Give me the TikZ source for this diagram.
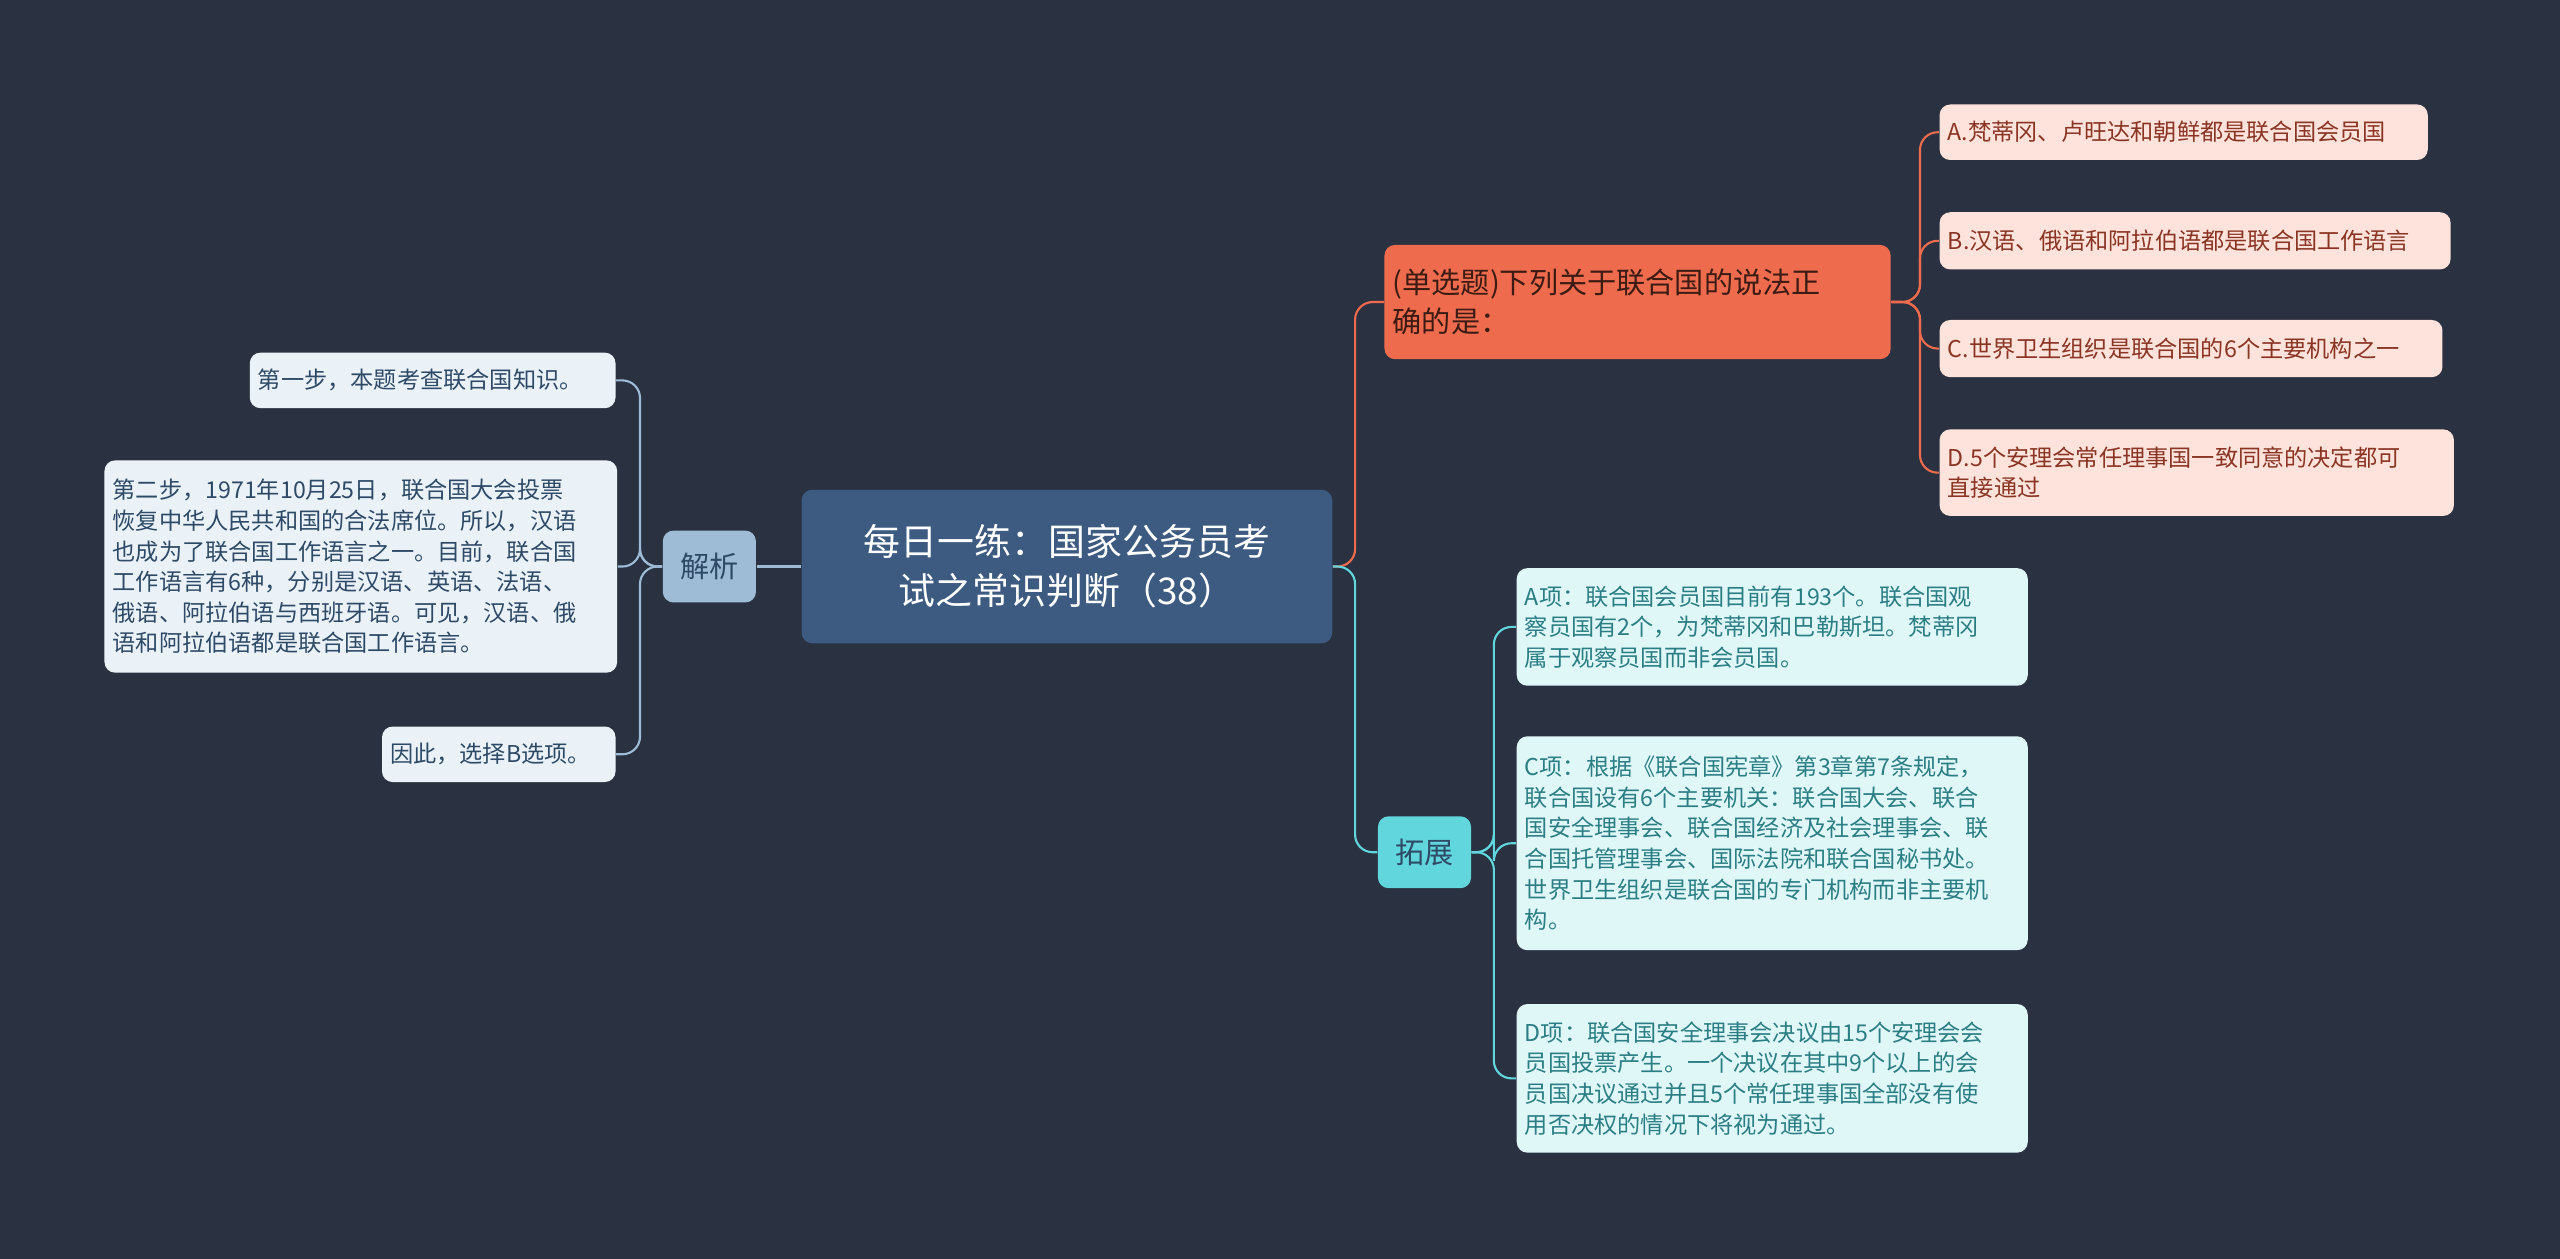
\documentclass[tikz,border=0pt]{standalone}
\usepackage{fontspec}
\setmainfont{Noto Sans CJK SC}
\usetikzlibrary{positioning}
\def\pu{0.016327cm}
\definecolor{bg}{HTML}{2A3140}
\definecolor{rootfill}{HTML}{3D5A80}
\definecolor{qfill}{HTML}{EE6C4D}
\definecolor{optfill}{HTML}{FDE3DB}
\definecolor{opttext}{HTML}{8A3524}
\definecolor{jxfill}{HTML}{9EBCD6}
\definecolor{leftfill}{HTML}{EAF2F8}
\definecolor{lefttext}{HTML}{2E4A66}
\definecolor{tzfill}{HTML}{61D6DC}
\definecolor{rightfill}{HTML}{E0F7F8}
\definecolor{righttext}{HTML}{2A7E84}
\tikzset{
  box/.style={rounded corners=3pt, inner xsep=5*\pu, inner ysep=0pt, align=left},
  small/.style={font=\fontsize{6.6pt}{8.7pt}\selectfont},
  opt/.style={box, small, fill=optfill, text=opttext},
  leftbox/.style={box, small, fill=leftfill, text=lefttext},
  rightbox/.style={box, small, fill=rightfill, text=righttext},
  link/.style={line width=0.6pt, rounded corners=5pt}
}
\begin{document}
\begin{tikzpicture}[x=\pu, y=-\pu]
\fill[bg] (0,0) rectangle (1568,771);

% root and main branches
\node[box, fill=rootfill, text=white, align=center, minimum width=325*\pu, minimum height=94*\pu,
  font=\fontsize{10.5pt}{14pt}\selectfont] (root) at (653.5,347) {每日一练：国家公务员考\\试之常识判断（38）};
\node[box, fill=qfill, text=black!75!qfill, text width=300*\pu, minimum height=70*\pu,
  font=\fontsize{8.3pt}{11pt}\selectfont] (q) at (1003,185) {(单选题)下列关于联合国的说法正\\确的是：};
\node[box, fill=jxfill, text=lefttext, align=center, minimum width=57*\pu, minimum height=44*\pu,
  font=\fontsize{8.3pt}{11pt}\selectfont] (jx) at (434.5,347) {解析};
\node[box, fill=tzfill, text=lefttext, align=center, minimum width=57*\pu, minimum height=44*\pu,
  font=\fontsize{8.3pt}{11pt}\selectfont] (tz) at (872.5,522) {拓展};

% options
\node[opt, text width=289*\pu, minimum height=34*\pu] (oa) at (1337.5,81) {A.梵蒂冈、卢旺达和朝鲜都是联合国会员国};
\node[opt, text width=303*\pu, minimum height=35*\pu] (ob) at (1344.5,147.5) {B.汉语、俄语和阿拉伯语都是联合国工作语言};
\node[opt, text width=298*\pu, minimum height=35*\pu] (oc) at (1342,213.5) {C.世界卫生组织是联合国的6个主要机构之一};
\node[opt, text width=305*\pu, minimum height=53*\pu] (od) at (1345.5,289.5) {D.5个安理会常任理事国一致同意的决定都可\\直接通过};

% analysis
\node[leftbox, text width=214*\pu, minimum height=34*\pu] (l1) at (265,233) {第一步，本题考查联合国知识。};
\node[leftbox, text width=304*\pu, minimum height=130*\pu] (l2) at (221,347) {第二步，1971年10月25日，联合国大会投票\\恢复中华人民共和国的合法席位。所以，汉语\\也成为了联合国工作语言之一。目前，联合国\\工作语言有6种，分别是汉语、英语、法语、\\俄语、阿拉伯语与西班牙语。可见，汉语、俄\\语和阿拉伯语都是联合国工作语言。};
\node[leftbox, text width=133*\pu, minimum height=34*\pu] (l3) at (305.5,462) {因此，选择B选项。};

% extension
\node[rightbox, text width=303*\pu, minimum height=72*\pu] (r1) at (1085.5,384) {A项：联合国会员国目前有193个。联合国观\\察员国有2个，为梵蒂冈和巴勒斯坦。梵蒂冈\\属于观察员国而非会员国。};
\node[rightbox, text width=303*\pu, minimum height=131*\pu] (r2) at (1085.5,516.5) {C项：根据《联合国宪章》第3章第7条规定，\\联合国设有6个主要机关：联合国大会、联合\\国安全理事会、联合国经济及社会理事会、联\\合国托管理事会、国际法院和联合国秘书处。\\世界卫生组织是联合国的专门机构而非主要机\\构。};
\node[rightbox, text width=303*\pu, minimum height=91*\pu] (r3) at (1085.5,660.5) {D项：联合国安全理事会决议由15个安理会会\\员国投票产生。一个决议在其中9个以上的会\\员国决议通过并且5个常任理事国全部没有使\\用否决权的情况下将视为通过。};

% connectors
\draw[link, qfill] (root.east) -- (830,347) |- (q.west);
\draw[link, tzfill] (root.east) -- (830,347) |- (tz.west);
\draw[link, jxfill] (root.west) -- (jx.east);
\foreach \o in {oa,ob,oc,od}
  \draw[link, qfill] (q.east) -- (1176,185) |- (\o.west);
\foreach \l in {l1,l2,l3}
  \draw[link, jxfill] (jx.west) -- (392,347) |- (\l.east);
\foreach \r in {r1,r2,r3}
  \draw[link, tzfill] (tz.east) -- (915,522) |- (\r.west);
\end{tikzpicture}
\end{document}
